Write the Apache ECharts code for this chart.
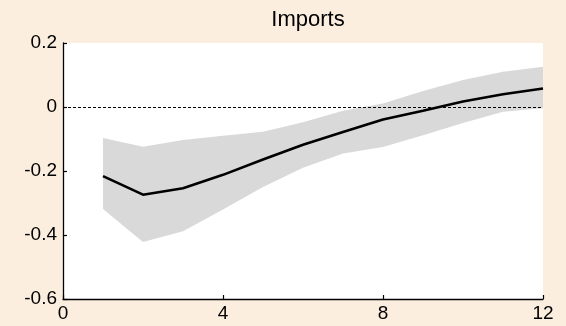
<!DOCTYPE html>
<html>
<head>
<meta charset="utf-8">
<script src="https://cdn.jsdelivr.net/npm/echarts@6/dist/echarts.min.js"></script>
<style>
  html, body { margin: 0; padding: 0; background: #FCEEDF; }
  #chart { width: 566px; height: 326px; }
</style>
</head>
<body>
<div id="chart"></div>
<script>
// Impulse response of imports: point estimate with confidence band
const horizons = [1, 2, 3, 4, 5, 6, 7, 8, 9, 10, 11, 12];
const response = [-0.216, -0.274, -0.254, -0.212, -0.164, -0.118, -0.078, -0.039, -0.012, 0.017, 0.040, 0.058];
const upperBand = [-0.097, -0.124, -0.103, -0.090, -0.077, -0.048, -0.012, 0.011, 0.050, 0.084, 0.110, 0.126];
const lowerBand = [-0.319, -0.422, -0.388, -0.320, -0.250, -0.190, -0.145, -0.125, -0.088, -0.050, -0.015, -0.004];
const xTicks = [0, 4, 8, 12];
const yTicks = [-0.6, -0.4, -0.2, 0, 0.2];

const chart = echarts.init(document.getElementById('chart'), null, { renderer: 'canvas' });

const fontFamily = '"Liberation Sans", Arial, Helvetica, sans-serif';

function fmtY(v) {
  const r = Math.round(v * 10) / 10;
  return r === 0 ? '0' : String(r);
}

chart.setOption({
  backgroundColor: '#FCEEDF',
  animation: false,
  title: {
    text: 'Imports',
    left: 303,
    textAlign: 'center',
    top: 4,
    textStyle: { fontFamily, fontSize: 22, fontWeight: 'normal', color: '#000' }
  },
  grid: {
    left: 63, right: 23, top: 43, bottom: 27,
    show: true, backgroundColor: '#ffffff', borderWidth: 0
  },
  xAxis: {
    type: 'value',
    min: xTicks[0], max: xTicks[xTicks.length - 1], interval: 4,
    splitLine: { show: false },
    axisLine: { onZero: false, lineStyle: { color: '#000', width: 1.3 } },
    axisTick: { inside: true, length: 4, lineStyle: { color: '#000', width: 1.2 } },
    axisLabel: { fontFamily, fontSize: 19, color: '#000', margin: 5 }
  },
  yAxis: {
    type: 'value',
    min: yTicks[0], max: yTicks[yTicks.length - 1], interval: 0.2,
    splitLine: { show: false },
    axisLine: { show: true, onZero: false, lineStyle: { color: '#000', width: 1.3 } },
    axisTick: { show: true, inside: true, length: 4, lineStyle: { color: '#000', width: 1.2 } },
    axisLabel: { fontFamily, fontSize: 19, color: '#000', margin: 6, formatter: fmtY }
  },
  series: [
    {
      // confidence band drawn as one polygon through the axis scales
      type: 'custom',
      name: 'band',
      data: [0],
      silent: true,
      z: 1,
      renderItem: function (params, api) {
        const pts = [];
        for (let i = 0; i < horizons.length; i++) pts.push(api.coord([horizons[i], upperBand[i]]));
        for (let i = horizons.length - 1; i >= 0; i--) pts.push(api.coord([horizons[i], lowerBand[i]]));
        return { type: 'polygon', shape: { points: pts }, style: { fill: '#D9D9D9' } };
      }
    },
    {
      type: 'line',
      name: 'response',
      data: horizons.map((h, i) => [h, response[i]]),
      symbol: 'none',
      z: 3,
      lineStyle: { color: '#000', width: 2.6 },
      markLine: {
        silent: true,
        symbol: 'none',
        label: { show: false },
        lineStyle: { color: '#000', type: [3, 2], width: 1 },
        data: [{ yAxis: 0 }]
      }
    }
  ]
});
</script>
</body>
</html>
